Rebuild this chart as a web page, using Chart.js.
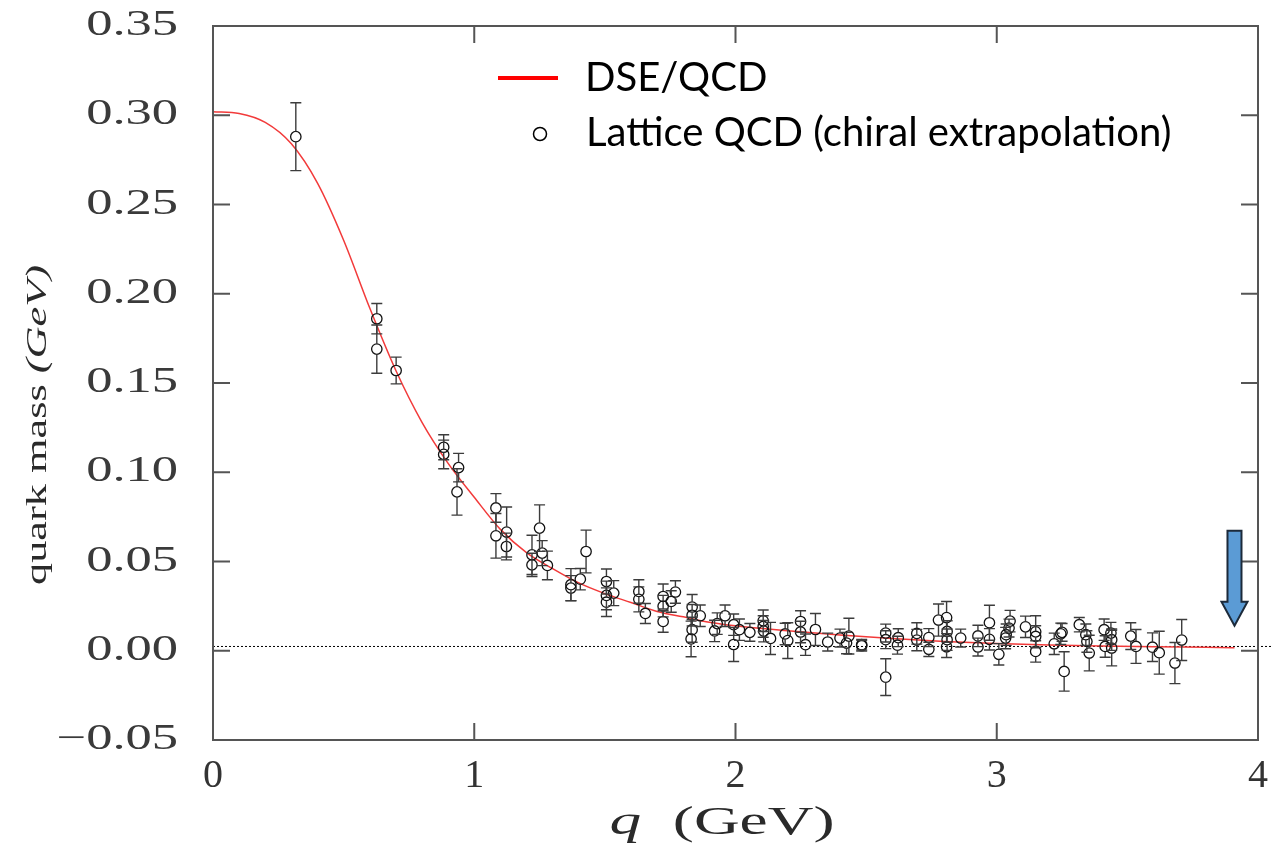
<!DOCTYPE html>
<html><head><meta charset="utf-8">
<script src="https://cdn.jsdelivr.net/npm/chart.js@4.4.1/dist/chart.umd.min.js"></script>
<style>html,body{margin:0;padding:0;background:#fff}#wrap{width:1274px;height:852px}</style>
</head><body><div id="wrap"><canvas id="c" width="1274" height="852"></canvas></div>
<script>
// ---- DSE/QCD curve ----
const dseQ = [0, 0.1, 0.2, 0.3, 0.4, 0.5, 0.6, 0.7, 0.8, 0.9, 1.0, 1.1, 1.2, 1.3, 1.4, 1.5, 1.6, 1.7, 1.8, 1.9, 2.0, 2.2, 2.4, 2.6, 2.8, 3.0, 3.2, 3.4, 3.6, 3.8, 3.91];
const dseM = [0.302, 0.301, 0.296, 0.284, 0.262, 0.230, 0.192, 0.157, 0.128, 0.105, 0.086, 0.068, 0.055, 0.046, 0.038, 0.032, 0.027, 0.022, 0.019, 0.016, 0.0140, 0.0112, 0.0088, 0.0068, 0.0052, 0.0040, 0.0032, 0.0026, 0.0022, 0.0019, 0.0017];

// ---- Lattice QCD points ----
const latQ = [0.317, 0.627, 0.627, 0.701, 0.883, 0.883, 0.934, 0.940, 1.083, 1.083,
  1.123, 1.124, 1.221, 1.221, 1.250, 1.260, 1.280, 1.370, 1.370, 1.406,
  1.428, 1.506, 1.506, 1.506, 1.534, 1.630, 1.630, 1.655, 1.723, 1.723,
  1.723, 1.754, 1.770, 1.834, 1.834, 1.834, 1.830, 1.865, 1.920, 1.930,
  1.960, 1.993, 1.993, 2.015, 2.055, 2.106, 2.106, 2.108, 2.134, 2.190,
  2.200, 2.249, 2.249, 2.268, 2.306, 2.353, 2.400, 2.425, 2.434, 2.483,
  2.483, 2.575, 2.575, 2.575, 2.620, 2.623, 2.694, 2.694, 2.740, 2.740,
  2.777, 2.808, 2.810, 2.810, 2.808, 2.862, 2.928, 2.928, 2.972, 2.972,
  3.008, 3.034, 3.036, 3.047, 3.051, 3.110, 3.149, 3.149, 3.149, 3.220,
  3.245, 3.250, 3.258, 3.316, 3.341, 3.345, 3.354, 3.411, 3.415, 3.437,
  3.440, 3.440, 3.513, 3.533, 3.596, 3.622, 3.682, 3.708];
const latM = [0.288, 0.186, 0.169, 0.157, 0.114, 0.110, 0.089, 0.1026, 0.080, 0.0644,
  0.0584, 0.0665, 0.0537, 0.0481, 0.0687, 0.0547, 0.0478, 0.037, 0.0351, 0.0401,
  0.0556, 0.0388, 0.031, 0.0272, 0.0323, 0.0332, 0.0288, 0.0209, 0.0304, 0.025,
  0.0164, 0.0276, 0.0329, 0.0245, 0.0199, 0.0118, 0.0066, 0.0196, 0.0111, 0.0152,
  0.0196, 0.0146, 0.0035, 0.0118, 0.0103, 0.0168, 0.0136, 0.0110, 0.0069, 0.0094,
  0.0057, 0.0164, 0.0105, 0.0034, 0.0119, 0.0049, 0.0071, 0.0043, 0.0082, 0.0034,
  0.0028, 0.0099, 0.0062, -0.0148, 0.0031, 0.0073, 0.0097, 0.0060, 0.0074, 0.0008,
  0.0172, 0.0186, 0.0108, 0.0062, 0.0022, 0.0071, 0.0083, 0.0021, 0.0157, 0.0064,
  -0.0020, 0.0071, 0.0090, 0.0127, 0.0166, 0.0134, 0.0106, 0.0080, -0.0004, 0.0039,
  0.0095, 0.0103, -0.0116, 0.0146, 0.0090, 0.0052, -0.0013, 0.0118, 0.0024, 0.0099,
  0.0062, 0.0015, 0.0082, 0.0024, 0.0020, -0.0011, -0.0069, 0.0060];
const latErr = [0.019, 0.0085, 0.0135, 0.0075, 0.007, 0.008, 0.013, 0.008, 0.008, 0.0125,
  0.0075, 0.014, 0.011, 0.0065, 0.013, 0.007, 0.008, 0.009, 0.007, 0.006,
  0.012, 0.007, 0.008, 0.008, 0.007, 0.0066, 0.007, 0.0056, 0.007, 0.006,
  0.006, 0.006, 0.0063, 0.007, 0.006, 0.007, 0.010, 0.006, 0.006, 0.006,
  0.006, 0.006, 0.0095, 0.006, 0.005, 0.006, 0.006, 0.006, 0.009, 0.006,
  0.010, 0.006, 0.006, 0.006, 0.009, 0.005, 0.005, 0.006, 0.010, 0.003,
  0.003, 0.005, 0.005, 0.0103, 0.005, 0.005, 0.006, 0.006, 0.005, 0.004,
  0.009, 0.009, 0.006, 0.006, 0.006, 0.005, 0.006, 0.005, 0.0098, 0.006,
  0.006, 0.006, 0.006, 0.005, 0.006, 0.006, 0.009, 0.006, 0.006, 0.006,
  0.006, 0.005, 0.011, 0.004, 0.006, 0.006, 0.010, 0.006, 0.006, 0.006,
  0.006, 0.010, 0.0075, 0.0095, 0.008, 0.012, 0.0115, 0.0115];

// ---- dotted reference line ----
const refQ = [0, 4.05];
const refM = [0.0024, 0.0024];

// ---- axes ----
const xTickValues = [0, 1, 2, 3, 4];
const xTickLabels = ['0', '1', '2', '3', '4'];
const yTickValues = [-0.05, 0, 0.05, 0.10, 0.15, 0.20, 0.25, 0.30, 0.35];
const yTickLabels = ['\u22120.05', '0.00', '0.05', '0.10', '0.15', '0.20', '0.25', '0.30', '0.35'];

const seriesLabels = ['Lattice QCD (chiral extrapolation)', 'DSE/QCD'];
const arrowQ = 3.91, arrowTipM = 0.0140;

const SERIF = '"Liberation Serif", "DejaVu Serif", serif';
const FRAME = '#555';

const decor = {
  id: 'decor',
  afterDatasetsDraw(chart) {
    const { ctx, scales: { x, y } } = chart;
    const r = 5.2;
    ctx.save();
    ctx.strokeStyle = '#3c3c3c';
    ctx.lineWidth = 1.4;
    for (let i = 0; i < latQ.length; i++) {
      const px = x.getPixelForValue(latQ[i]);
      const py = y.getPixelForValue(latM[i]);
      const pt = y.getPixelForValue(latM[i] + latErr[i]);
      const pb = y.getPixelForValue(latM[i] - latErr[i]);
      ctx.beginPath();
      if (py - pt > r) { ctx.moveTo(px, py - r); ctx.lineTo(px, pt); }
      if (pb - py > r) { ctx.moveTo(px, py + r); ctx.lineTo(px, pb); }
      ctx.moveTo(px - 5.5, pt); ctx.lineTo(px + 5.5, pt);
      ctx.moveTo(px - 5.5, pb); ctx.lineTo(px + 5.5, pb);
      ctx.stroke();
    }
    ctx.restore();
  },
  afterDraw(chart) {
    const { ctx, chartArea: a, scales: { x, y } } = chart;
    ctx.save();
    // frame
    ctx.strokeStyle = FRAME; ctx.lineWidth = 2;
    ctx.strokeRect(a.left, a.top, a.right - a.left, a.bottom - a.top);
    // inward ticks
    ctx.beginPath();
    const TL = 17;
    yTickValues.forEach(v => {
      const py = y.getPixelForValue(v);
      ctx.moveTo(a.left, py); ctx.lineTo(a.left + TL, py);
      ctx.moveTo(a.right, py); ctx.lineTo(a.right - TL, py);
    });
    xTickValues.forEach(v => {
      const px = x.getPixelForValue(v);
      ctx.moveTo(px, a.bottom); ctx.lineTo(px, a.bottom - TL);
      ctx.moveTo(px, a.top); ctx.lineTo(px, a.top + TL);
    });
    ctx.stroke();

    // legend
    ctx.fillStyle = '#000';
    ctx.textBaseline = 'middle';
    ctx.textAlign = 'left';
    ctx.font = '40px Lato, "Noto Sans", sans-serif';
    const w2 = ctx.measureText(seriesLabels[0]).width;
    const fs = 40 * 586 / w2;
    ctx.font = fs.toFixed(1) + 'px Lato, "Noto Sans", sans-serif';
    ctx.strokeStyle = '#ff0000'; ctx.lineWidth = 4;
    ctx.beginPath(); ctx.moveTo(498, 78); ctx.lineTo(558, 78); ctx.stroke();
    ctx.fillText(seriesLabels[1], 585, 78);
    ctx.strokeStyle = '#000'; ctx.lineWidth = 1.5;
    ctx.beginPath(); ctx.arc(540, 134, 6.5, 0, Math.PI * 2); ctx.stroke();
    ctx.fillText(seriesLabels[0], 586, 133);

    // x title: q (GeV)
    ctx.fillStyle = '#2a2a2a';
    ctx.textBaseline = 'middle';
    const xt1 = 'q', xt2 = '  (GeV)';
    ctx.font = 'italic 40px ' + SERIF; const wq = ctx.measureText(xt1).width;
    ctx.font = '40px ' + SERIF; const wg = ctx.measureText(xt2).width;
    const sx = 225 / (wq + wg);
    ctx.save();
    ctx.translate(722, 823); ctx.scale(sx, 1);
    let x0 = -(wq + wg) / 2;
    ctx.font = 'italic 40px ' + SERIF; ctx.fillText(xt1, x0, 0);
    ctx.font = '40px ' + SERIF; ctx.fillText(xt2, x0 + wq, 0);
    ctx.restore();

    // y title: quark mass (GeV)
    const yt1 = 'quark mass ', yt2 = '(GeV)';
    ctx.font = '29px ' + SERIF; const wa = ctx.measureText(yt1).width;
    ctx.font = 'italic 29px ' + SERIF; const wb = ctx.measureText(yt2).width;
    const sy = 320 / (wa + wb);
    ctx.save();
    ctx.translate(38, 425); ctx.rotate(-Math.PI / 2); ctx.scale(sy, 1);
    x0 = -(wa + wb) / 2;
    ctx.font = '29px ' + SERIF; ctx.fillText(yt1, x0, 0);
    ctx.font = 'italic 29px ' + SERIF; ctx.fillText(yt2, x0 + wa, 0);
    ctx.restore();

    // arrow
    const tx = x.getPixelForValue(arrowQ), ty = y.getPixelForValue(arrowTipM);
    ctx.beginPath();
    ctx.moveTo(tx, ty);
    ctx.lineTo(tx + 13, ty - 24);
    ctx.lineTo(tx + 7, ty - 24);
    ctx.lineTo(tx + 7, ty - 95);
    ctx.lineTo(tx - 7, ty - 95);
    ctx.lineTo(tx - 7, ty - 24);
    ctx.lineTo(tx - 13, ty - 24);
    ctx.closePath();
    ctx.fillStyle = '#5b9bd5'; ctx.fill();
    ctx.strokeStyle = '#1c2a3a'; ctx.lineWidth = 2; ctx.stroke();
    ctx.restore();
  }
};

new Chart(document.getElementById('c'), {
  type: 'scatter',
  data: {
    datasets: [
      {
        label: seriesLabels[0],
        data: latQ.map((q, i) => ({ x: q, y: latM[i] })),
        pointStyle: 'circle', pointRadius: 5.2, pointBorderWidth: 1.3,
        borderColor: '#111', backgroundColor: 'rgba(255,255,255,0)',
        pointHoverRadius: 5.2, showLine: false
      },
      {
        label: seriesLabels[1],
        data: dseQ.map((q, i) => ({ x: q, y: dseM[i] })),
        showLine: true, borderColor: '#f23a3a', borderWidth: 1.5,
        pointRadius: 0, cubicInterpolationMode: 'monotone', fill: false
      },
      {
        label: 'ref',
        data: refQ.map((q, i) => ({ x: q, y: refM[i] })),
        showLine: true, borderColor: '#000', borderWidth: 1, borderDash: [2, 2],
        pointRadius: 0, fill: false, clip: false
      }
    ]
  },
  options: {
    responsive: false, animation: false, devicePixelRatio: 1,
    layout: { padding: { left: 0, right: 16, top: 26, bottom: 0 } },
    plugins: { legend: { display: false }, tooltip: { enabled: false } },
    scales: {
      x: {
        type: 'linear', min: 0, max: 4,
        grid: { display: false, drawTicks: false }, border: { display: false },
        afterBuildTicks: s => { s.ticks = xTickValues.map(v => ({ value: v })); },
        afterFit: s => { s.height = 112; s.paddingLeft = 0; s.paddingRight = 0; },
        ticks: { autoSkip: false, maxRotation: 0, padding: 12, color: '#333',
          font: { family: SERIF, size: 40 }, callback: (v, i) => xTickLabels[i] }
      },
      y: {
        type: 'linear', min: -0.05, max: 0.35,
        grid: { display: false, drawTicks: false }, border: { display: false },
        afterBuildTicks: s => { s.ticks = yTickValues.map(v => ({ value: v })); },
        afterFit: s => {
          s.width = 213; s.paddingTop = 0; s.paddingBottom = 0;
          if (!s._stretched) {
            s._stretched = true;
            const orig = s.drawLabels;
            s.drawLabels = function (area) {
              const c = this.ctx, px = this.right - 35;
              c.save(); c.translate(px, 0); c.scale(1.5, 1); c.translate(-px, 0);
              orig.call(this, area); c.restore();
            };
          }
        },
        ticks: { autoSkip: false, padding: 35, color: '#3a3a3a',
          font: { family: SERIF, size: 35 }, callback: (v, i) => yTickLabels[i] }
      }
    }
  },
  plugins: [decor]
});
</script></body></html>
